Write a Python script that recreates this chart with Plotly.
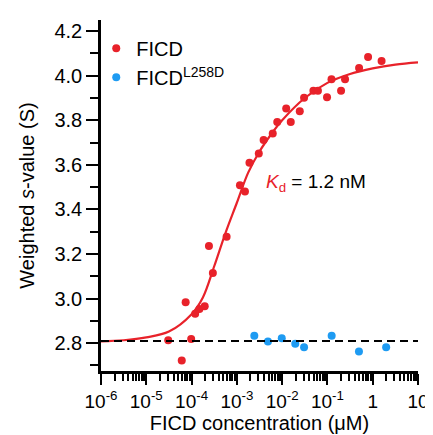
import plotly.graph_objects as go

# ---------------- data ----------------
ficd_conc = [3.05e-5, 6.07e-5, 7.4e-5, 9.8e-5, 1.2e-4, 1.49e-4, 1.95e-4, 2.42e-4, 2.95e-4, 5.94e-4,
             1.17e-3, 1.51e-3, 1.9e-3, 3.05e-3, 3.9e-3, 6.2e-3, 7.8e-3, 0.0123, 0.0155, 0.0245,
             0.0305, 0.049, 0.0617, 0.098, 0.123, 0.2, 0.245, 0.5, 0.79, 1.57]
ficd_s = [2.813, 2.722, 2.983, 2.819, 2.932, 2.953, 2.966, 3.236, 3.115, 3.277,
          3.508, 3.480, 3.610, 3.651, 3.711, 3.741, 3.792, 3.853, 3.792, 3.841,
          3.901, 3.933, 3.933, 3.903, 3.984, 3.933, 3.984, 4.035, 4.084, 4.066]

mut_conc = [0.00243, 0.00486, 0.0098, 0.0195, 0.0305, 0.124, 0.497, 1.98]
mut_s = [2.833, 2.807, 2.822, 2.797, 2.782, 2.833, 2.762, 2.782]

# fitted curve
fit_conc = [1e-6, 10**-5.5, 1e-5, 10**-4.5, 1e-4, 10**-3.75, 10**-3.5, 10**-3.25, 1e-3,
            10**-2.75, 10**-2.5, 10**-2.25, 1e-2, 10**-1.5, 1e-1, 10**-0.5, 1, 10**0.5, 10]
fit_s = [2.808, 2.813, 2.826, 2.852, 2.93, 3.005, 3.145, 3.295, 3.43,
         3.565, 3.66, 3.735, 3.80, 3.90, 3.968, 4.008, 4.033, 4.05, 4.06]

baseline_s = 2.81

x_tickvals = [1e-6, 1e-5, 1e-4, 1e-3, 1e-2, 1e-1, 1, 10]
x_ticktext = ["10<sup>-6</sup>", "10<sup>-5</sup>", "10<sup>-4</sup>", "10<sup>-3</sup>",
              "10<sup>-2</sup>", "10<sup>-1</sup>", "1", "10"]
x_minor = [m * 10**e for e in range(-6, 1) for m in range(2, 10)]

y_tickvals = [2.8, 3.0, 3.2, 3.4, 3.6, 3.8, 4.0, 4.2]
y_ticktext = ["2.8", "3.0", "3.2", "3.4", "3.6", "3.8", "4.0", "4.2"]

# ---------------- figure ----------------
RED = "#E8222A"
BLUE = "#1E9BF2"
FONT = "Liberation Sans, Arial, sans-serif"

fig = go.Figure()
fig.add_trace(go.Scatter(x=fit_conc, y=fit_s, mode="lines", line=dict(color=RED, width=2.2, shape="spline"),
                         showlegend=False, hoverinfo="skip"))
fig.add_trace(go.Scatter(x=ficd_conc, y=ficd_s, mode="markers", name="FICD",
                         marker=dict(color=RED, size=8)))
fig.add_trace(go.Scatter(x=mut_conc, y=mut_s, mode="markers", name="FICD<sup>L258D</sup>",
                         marker=dict(color=BLUE, size=8)))
fig.add_hline(y=baseline_s, line=dict(color="black", width=2, dash="8px,5px"))

fig.add_annotation(xref="paper", yref="paper", x=0.515, y=0.535, xanchor="left", yanchor="middle",
                   text=f"<span style='color:{RED}'><i>K</i><sub>d</sub></span> = 1.2 nM",
                   showarrow=False, font=dict(size=19, color="black", family=FONT))

fig.update_layout(
    width=433, height=435,
    margin=dict(l=93, r=18, t=12, b=72),
    paper_bgcolor="white", plot_bgcolor="white",
    font=dict(family=FONT, size=20, color="black"),
    legend=dict(x=-0.015, y=0.975, xanchor="left", yanchor="top", bgcolor="rgba(0,0,0,0)",
                font=dict(size=20), itemwidth=30, tracegroupgap=0),
    xaxis=dict(type="log", range=[-6, 1], showline=True, linecolor="black", linewidth=2.5,
               ticks="outside", ticklen=11, tickwidth=2, tickcolor="black",
               tickmode="array", tickvals=x_tickvals, ticktext=x_ticktext,
               minor=dict(tickmode="array", tickvals=x_minor, ticks="outside", ticklen=7,
                          tickwidth=1.5, tickcolor="black"),
               showgrid=False, zeroline=False, tickfont=dict(size=19),
               title=dict(text="FICD concentration (μM)", font=dict(size=20), standoff=2)),
    yaxis=dict(range=[2.675, 4.25], showline=True, linecolor="black", linewidth=2.5,
               ticks="outside", ticklen=12, tickwidth=2, tickcolor="black",
               tickmode="array", tickvals=y_tickvals, ticktext=y_ticktext,
               minor=dict(dtick=0.1, tick0=2.7, ticks="outside", ticklen=8, tickwidth=2,
                          tickcolor="black"),
               showgrid=False, zeroline=False, tickfont=dict(size=20),
               title=dict(text="Weighted <i>s</i>-value (S)", font=dict(size=20), standoff=15)),
)

fig.write_html("out.html")
